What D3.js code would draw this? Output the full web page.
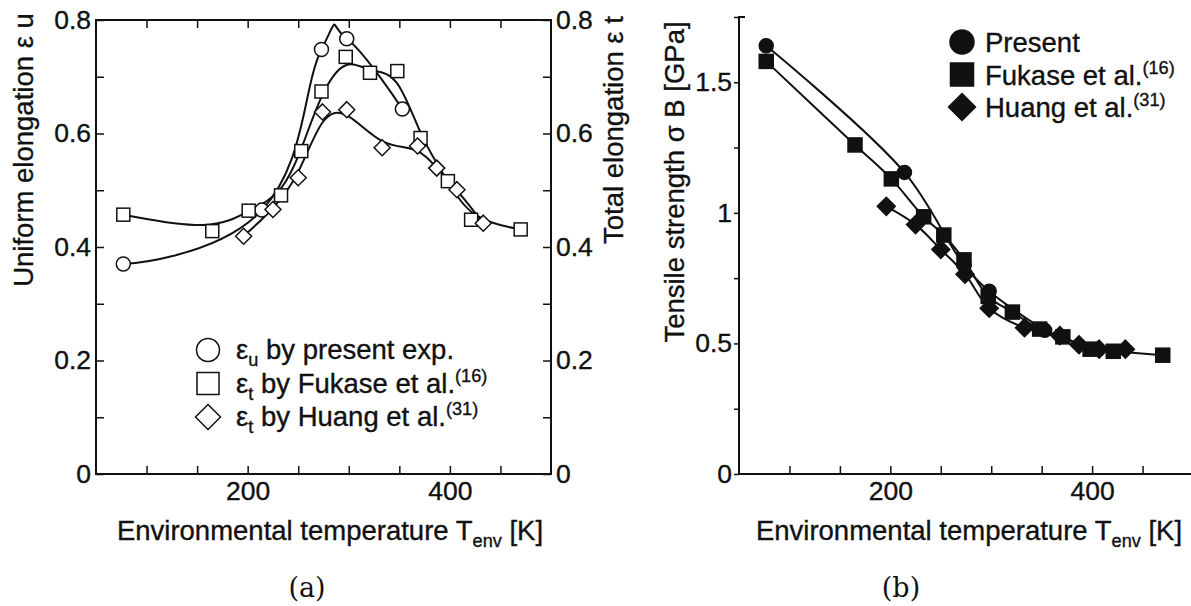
<!DOCTYPE html>
<html>
<head>
<meta charset="utf-8">
<script src="https://cdn.jsdelivr.net/npm/d3@7"></script>
<style>
  body { margin: 0; background: #fff; }
  svg text { font-family: "Liberation Sans", Arial, sans-serif; fill: #111; stroke: #111; stroke-width: 0.35; }
</style>
</head>
<body>
<div id="chart"></div>
<script>
/**
 * DATA
 * */
const tempPresent = [77, 214, 273, 298, 353];
const tempFukase = [77, 165, 201, 233, 253, 273, 297, 321, 348, 371, 398, 421, 470];
const tempHuang = [196, 225, 250, 274, 298, 333, 368, 387, 407, 433];

// (a) elongation
const uniformPresent = [0.37, 0.465, 0.748, 0.767, 0.643];
const totalFukase = [0.457, 0.428, 0.464, 0.491, 0.569, 0.674, 0.735, 0.707, 0.71, 0.592, 0.516, 0.448, 0.431];
const totalHuang = [0.419, 0.466, 0.522, 0.638, 0.642, 0.575, 0.578, 0.539, 0.501, 0.442];

// (b) tensile strength
const strengthPresent = [1.64, 1.155, 0.80, 0.70, 0.55];
const strengthFukase = [1.58, 1.26, 1.13, 0.985, 0.915, 0.82, 0.68, 0.62, 0.555, 0.525, 0.478, 0.47, 0.455];
const strengthHuang = [1.025, 0.955, 0.86, 0.765, 0.635, 0.56, 0.53, 0.495, 0.478, 0.478];

// ticks
const tempTicks = [100, 150, 200, 250, 300, 350, 400, 450];
const tempLabels = [200, 400];
const elongTicks = [0, 0.1, 0.2, 0.3, 0.4, 0.5, 0.6, 0.7, 0.8];
const elongLabels = [0, 0.2, 0.4, 0.6, 0.8];
const strengthTicks = [0, 0.25, 0.5, 0.75, 1, 1.25, 1.5, 1.75];
const strengthLabels = [0, 0.5, 1, 1.5];

/**
 * SETUP
 * */
const width = 1191, height = 606;
const svg = d3.select("#chart").append("svg")
  .attr("width", width).attr("height", height);
svg.append("rect").attr("width", width).attr("height", height).attr("fill", "#fff");

const zip = (xs, ys) => xs.map((x, i) => [x, ys[i]]);
const fmt = d => (d === 0 ? "0" : String(d));
const FS = 27.5;   // titles, legend
const TS = 26.5;   // tick labels

function styleAxis(g) {
  g.selectAll("line").attr("stroke", "#111").attr("stroke-width", 1.5);
  g.selectAll("text").attr("font-size", TS).attr("fill", "#111")
    .style("font-family", '"Liberation Sans", Arial, sans-serif');
  g.select(".domain").remove();
}

// text with sub/superscript parts: [[text, "n"|"sub"|"sup"], ...]
function richText(sel, parts, size) {
  let shift = 0;
  parts.forEach(([t, kind]) => {
    const target = kind === "sub" ? 7 : kind === "sup" ? -11 : 0;
    sel.append("tspan")
      .attr("dy", target - shift)
      .attr("font-size", kind === "n" ? size : size * 0.66)
      .text(t);
    shift = target;
  });
}

function marker(g, kind, cx, cy, s, filled) {
  const fill = filled ? "#111" : "#fff";
  if (kind === "circle") {
    g.append("circle").attr("cx", cx).attr("cy", cy).attr("r", s)
      .attr("fill", fill).attr("stroke", "#111").attr("stroke-width", 1.5);
  } else if (kind === "square") {
    g.append("rect").attr("x", cx - s).attr("y", cy - s)
      .attr("width", 2 * s).attr("height", 2 * s)
      .attr("fill", fill).attr("stroke", "#111").attr("stroke-width", 1.5);
  } else {
    g.append("path")
      .attr("d", `M${cx},${cy - s}L${cx + s},${cy}L${cx},${cy + s}L${cx - s},${cy}Z`)
      .attr("fill", fill).attr("stroke", "#111").attr("stroke-width", 1.5);
  }
}

/**
 * PANEL (a)
 * */
const xA = d3.scaleLinear().domain([50, 500]).range([96, 551]);
const yA = d3.scaleLinear().domain([0, 0.8]).range([474, 20]);
const pa = svg.append("g");

pa.append("g").attr("transform", `translate(0,${yA(0)})`)
  .call(d3.axisBottom(xA).tickValues(tempTicks).tickSize(-8).tickPadding(7)
    .tickFormat(d => tempLabels.includes(d) ? d : ""))
  .call(styleAxis);
pa.append("g").attr("transform", `translate(0,${yA(0.8)})`)
  .call(d3.axisTop(xA).tickValues(tempTicks).tickSize(-8).tickFormat(""))
  .call(styleAxis);
pa.append("g").attr("transform", `translate(${xA(50)},0)`)
  .call(d3.axisLeft(yA).tickValues(elongTicks).tickSize(-8).tickPadding(5)
    .tickFormat(d => elongLabels.includes(d) ? fmt(d) : ""))
  .call(styleAxis);
pa.append("g").attr("transform", `translate(${xA(500)},0)`)
  .call(d3.axisRight(yA).tickValues(elongTicks).tickSize(-8).tickPadding(5)
    .tickFormat(d => elongLabels.includes(d) ? fmt(d) : ""))
  .call(styleAxis);
pa.append("rect")
  .attr("x", xA(50)).attr("y", yA(0.8))
  .attr("width", xA(500) - xA(50)).attr("height", yA(0) - yA(0.8))
  .attr("fill", "none").attr("stroke", "#111").attr("stroke-width", 2);

const lineA = curve => d3.line().x(d => xA(d[0])).y(d => yA(d[1])).curve(curve);
const seriesA = [
  { data: zip(tempPresent, uniformPresent), kind: "circle", s: 7, curve: d3.curveCardinal.tension(-0.35) },
  { data: zip(tempFukase, totalFukase), kind: "square", s: 6.5, curve: d3.curveBasis },
  { data: zip(tempHuang, totalHuang), kind: "diamond", s: 8, curve: d3.curveBasis }
];
seriesA.forEach(s => {
  pa.append("path").datum(s.data).attr("d", lineA(s.curve))
    .attr("fill", "none").attr("stroke", "#111").attr("stroke-width", 2);
});
seriesA.forEach(s => {
  s.data.forEach(d => marker(pa, s.kind, xA(d[0]), yA(d[1]), s.s, false));
});

// legend (a)
const legA = [
  { kind: "circle", s: 11.5, parts: [["ε", "n"], ["u", "sub"], [" by present exp.", "n"]] },
  { kind: "square", s: 11, parts: [["ε", "n"], ["t", "sub"], [" by Fukase et al.", "n"], ["(16)", "sup"]] },
  { kind: "diamond", s: 12.5, parts: [["ε", "n"], ["t", "sub"], [" by Huang et al.", "n"], ["(31)", "sup"]] }
];
legA.forEach((l, i) => {
  const cy = 350 + i * 33.5;
  marker(pa, l.kind, 208, cy, l.s, false);
  richText(pa.append("text").attr("x", 236).attr("y", cy + 9), l.parts, FS);
});

// axis titles (a)
richText(pa.append("text").attr("text-anchor", "middle")
  .attr("transform", "translate(33,150) rotate(-90)"),
  [["Uniform elongation  ε", "n"], [" u", "n"]], FS);
richText(pa.append("text").attr("text-anchor", "middle")
  .attr("transform", "translate(623,130) rotate(-90)"),
  [["Total elongation  ε", "n"], [" t", "n"]], FS);
richText(pa.append("text").attr("text-anchor", "middle").attr("x", 330).attr("y", 540),
  [["Environmental temperature T", "n"], ["env", "sub"], [" [K]", "n"]], FS);
pa.append("text").attr("x", 307).attr("y", 597).attr("text-anchor", "middle")
  .attr("font-size", 27).style("font-family", '"DejaVu Serif", serif')
  .style("stroke-width", 0).text("(a)");

/**
 * PANEL (b)
 * */
const xB = d3.scaleLinear().domain([50, 500]).range([739, 1193]);
const yB = d3.scaleLinear().domain([0, 1.75]).range([474, 17]);
const pb = svg.append("g");

pb.append("g").attr("transform", `translate(0,${yB(0)})`)
  .call(d3.axisBottom(xB).tickValues(tempTicks).tickSize(-8).tickPadding(7)
    .tickFormat(d => tempLabels.includes(d) ? d : ""))
  .call(styleAxis);
pb.append("g").attr("transform", `translate(${xB(50)},0)`)
  .call(d3.axisLeft(yB).tickValues(strengthTicks).tickSize(5).tickPadding(2)
    .tickFormat(d => strengthLabels.includes(d) ? fmt(d) : ""))
  .call(styleAxis);
pb.append("path")
  .attr("d", `M${xB(50) + 6},${yB(1.75)}H${xB(50)}V${yB(0)}H${xB(500)}`)
  .attr("fill", "none").attr("stroke", "#111").attr("stroke-width", 2);

const lineB = d3.line().x(d => xB(d[0])).y(d => yB(d[1])).curve(d3.curveCatmullRom.alpha(0.5));
const seriesB = [
  { data: zip(tempPresent, strengthPresent), kind: "circle", s: 7 },
  { data: zip(tempFukase, strengthFukase), kind: "square", s: 7 },
  { data: zip(tempHuang, strengthHuang), kind: "diamond", s: 9 }
];
seriesB.forEach(s => {
  pb.append("path").datum(s.data).attr("d", lineB)
    .attr("fill", "none").attr("stroke", "#111").attr("stroke-width", 2);
});
seriesB.forEach(s => {
  s.data.forEach(d => marker(pb, s.kind, xB(d[0]), yB(d[1]), s.s, true));
});

// legend (b)
const legB = [
  { kind: "circle", s: 12, parts: [["Present", "n"]] },
  { kind: "square", s: 11.5, parts: [["Fukase et al.", "n"], ["(16)", "sup"]] },
  { kind: "diamond", s: 13.5, parts: [["Huang et al.", "n"], ["(31)", "sup"]] }
];
legB.forEach((l, i) => {
  const cy = 42 + i * 32.5;
  marker(pb, l.kind, 962, cy, l.s, true);
  richText(pb.append("text").attr("x", 985).attr("y", cy + 10), l.parts, FS);
});

richText(pb.append("text").attr("text-anchor", "middle")
  .attr("transform", "translate(684,182) rotate(-90)"),
  [["Tensile strength  σ", "n"], [" B", "n"], [" [GPa]", "n"]], FS);
richText(pb.append("text").attr("text-anchor", "middle").attr("x", 969).attr("y", 540),
  [["Environmental temperature T", "n"], ["env", "sub"], [" [K]", "n"]], FS);
pb.append("text").attr("x", 901).attr("y", 597).attr("text-anchor", "middle")
  .attr("font-size", 27).style("font-family", '"DejaVu Serif", serif')
  .style("stroke-width", 0).text("(b)");
</script>
</body>
</html>
